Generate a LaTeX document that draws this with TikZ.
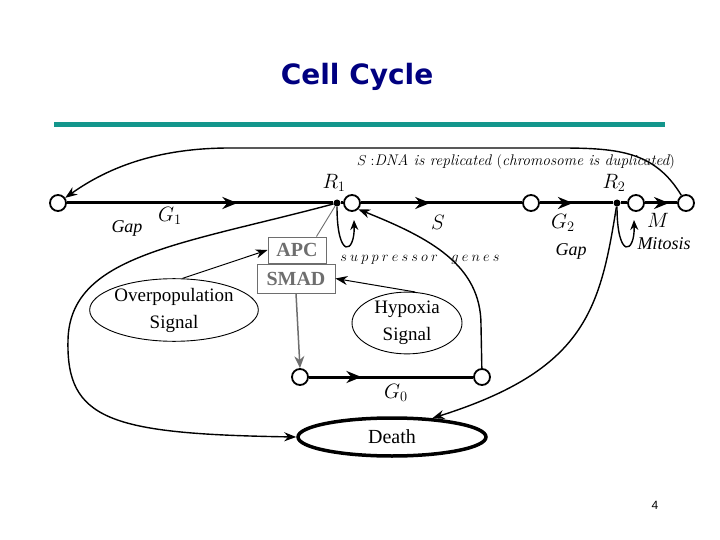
\documentclass[tikz,border=0pt]{standalone}
\usepackage{fontspec}
\newfontfamily\tms{Liberation Serif}
\newfontfamily\titlefont{DejaVu Sans}
\newfontfamily\pagefont{Liberation Sans}
\usetikzlibrary{arrows.meta,shapes.geometric,decorations.markings}
\definecolor{navy}{RGB}{0,0,128}
\definecolor{teal2}{RGB}{19,150,140}
\definecolor{boxgray}{RGB}{110,110,110}
\begin{document}
\begin{tikzpicture}[x=1pt,y=-1pt,
  stage/.style={circle,draw,line width=1.8pt,fill=white,minimum size=16pt,inner sep=0pt},
  chk/.style={circle,fill=black,minimum size=7pt,inner sep=0pt},
  phase/.style={line width=3pt},
  midarrow/.style={postaction={decorate,decoration={markings,mark=at position #1 with {\arrow{Stealth[length=15pt,width=12pt]}}}}},
  link/.style={line width=1.4pt,-{Stealth[length=12pt,width=9pt]}},
  grayarrow/.style={draw=boxgray,line width=1.5pt,-{Stealth[length=12pt,width=10pt]}},
  mathlbl/.style={font=\fontsize{20.74}{22}\selectfont},
  itlbl/.style={font=\tms\itshape\fontsize{18}{20}\selectfont},
  prot/.style={draw=boxgray,line width=0.9pt,text=boxgray,font=\tms\bfseries\fontsize{20}{22}\selectfont,inner sep=0pt},
  signal/.style={ellipse,draw,line width=0.9pt,align=center,inner sep=0pt,font=\tms\fontsize{19}{27}\selectfont}
]
\useasboundingbox (0,0) rectangle (720,540);
% title
\node[font=\titlefont\bfseries\fontsize{28}{32}\selectfont,text=navy] (title) at (357,77) {Cell Cycle};
\draw[teal2,line width=5pt] (54,125) -- (665,125);
% main cycle
\node[stage] (c1) at (58,203) {};
\node[chk] (r1) at (337,203) {};
\node[stage] (c2) at (352,203) {};
\node[stage] (c3) at (531,203) {};
\node[chk] (r2) at (617,203) {};
\node[stage] (c4) at (636,203) {};
\node[stage] (c5) at (686,203) {};
\draw[phase,midarrow=0.64] (c1) -- (r1);
\draw[phase] (r1) -- (c2);
\draw[phase,midarrow=0.43] (c2) -- (c3);
\draw[phase,midarrow=0.45] (c3) -- (r2);
\draw[phase] (r2) -- (c4);
\draw[phase,midarrow=0.75] (c4) -- (c5);
% labels
\node[mathlbl] (lG1) at (170,216) {$G_1$};
\node[itlbl] (lgap1) at (127,228) {Gap};
\node[mathlbl] (lR1) at (334,183) {$R_1$};
\node[mathlbl] (lS) at (438,222) {$S$};
\node[mathlbl] (lG2) at (563,223) {$G_2$};
\node[itlbl] (lgap2) at (571,251) {Gap};
\node[mathlbl] (lR2) at (614,183) {$R_2$};
\node[mathlbl] (lM) at (658,220) {$M$};
\node[itlbl] (lmit) at (664,244) {Mitosis};
\node[font=\itshape\fontsize{15.4}{17}\selectfont] (ltop) at (516,162) {$S:$DNA is replicated $($chromosome is duplicated$)$};
\node[font=\fontsize{13.5}{15}\selectfont] (lsup) at (420,260) {$s\:u\:p\:p\:r\:e\:s\:s\:o\:r\quad g\:e\:n\:e\:s$};
% top return arc
\draw[link] (c5) .. controls (655,152) and (620,148) .. (560,148) -- (230,148) .. controls (160,148) and (110,166) .. (c1);
% checkpoint loops
\draw[link,-{Stealth[length=10pt,width=8pt]}] (r1) .. controls (337,260) and (355,254) .. (354,220);
\draw[link,-{Stealth[length=10pt,width=8pt]}] (r2) .. controls (617,260) and (635,254) .. (634,220);
% APC / SMAD
\node[prot,minimum width=58pt,minimum height=26pt] (apc) at (297,250) {APC};
\node[prot,minimum width=78pt,minimum height=29pt] (smad) at (296,278.5) {SMAD};
\draw[boxgray,line width=0.9pt] (apc.north east) ++(-10,0) coordinate (apcn) -- (r1);
% signals
\node[signal,minimum width=162pt,minimum height=60pt] (over) at (174,310) {Overpopulation\\Signal};
\node[signal,minimum width=110pt,minimum height=57pt] (hyp) at (407,323) {Hypoxia\\Signal};
\draw[link,line width=1pt] (over.75) -- (apc.west);
\draw[link,line width=1pt] (hyp.75) -- (smad.east);
% G0
\node[stage] (g0l) at (300,377) {};
\node[stage] (g0r) at (482,377) {};
\draw[phase,midarrow=0.32] (g0l) -- (g0r);
\node[mathlbl] (lG0) at (396,393) {$G_0$};
\draw[grayarrow] (smad.south) -- (g0l.north);
\draw[link] (g0r) -- (481,325) .. controls (481,265) and (430,238) .. (c2.south east);
% death
\node[ellipse,draw,line width=3.5pt,minimum width=188pt,minimum height=38pt,inner sep=0pt,font=\tms\fontsize{20}{22}\selectfont] (death) at (392,437) {Death};
\draw[link] (r1) .. controls (180,245) and (70,255) .. (68,340) .. controls (66,420) and (110,434) .. (death.west);
\draw[link] (r2) .. controls (600,310) and (585,370) .. (death.25);
% page number
\node[font=\pagefont\fontsize{12}{14}\selectfont] (pnum) at (655,505) {4};
\end{tikzpicture}
\end{document}
